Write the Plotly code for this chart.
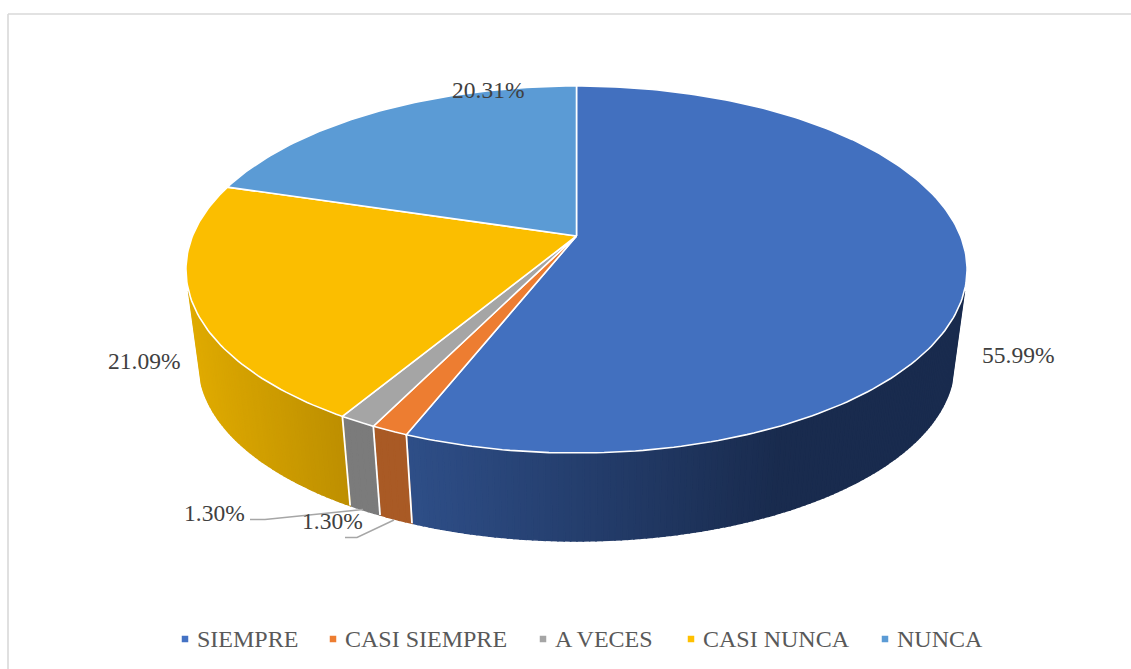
import numpy as np
import plotly.graph_objects as go

categories = ["SIEMPRE", "CASI SIEMPRE", "A VECES", "CASI NUNCA", "NUNCA"]
shares = [55.99, 1.30, 1.30, 21.09, 20.31]
top_colors = ["#4270BF", "#ED7D31", "#A5A5A5", "#FBBE00", "#5B9BD5"]
legend_colors = ["#4472C4", "#ED7D31", "#A5A5A5", "#FFC000", "#5B9BD5"]
side_left_colors = ["#2E4E87", "#A95A25", "#7B7B7B", "#DFAA00", "#3F6F9C"]
side_right_colors = ["#192B4E", "#A95A25", "#7B7B7B", "#BD8F00", "#3F6F9C"]
label_pos = [(1018, 354.5), (332, 521), (214, 513), (144, 360.5), (488, 90)]
legend_marker_x = [185, 333, 543, 691, 885]

W, H = 1131, 669
CX, CY = 576.5, 236.0      # pie apex on screen
A, B, K = 384.0, 177.4, 0.1826   # tilt + perspective of the disc
VPY = 3100.0               # vanishing point of the vertical edges
T = 0.0332                 # pie height as a fraction towards the vanishing point


def top(theta):
    u, v = np.sin(theta), -np.cos(theta)
    w = 1 - K * v
    return CX + A * u / w, CY + B * v / w


def bottom(theta):
    x, y = top(theta)
    return x + (CX - x) * T, y + (VPY - y) * T


def hex_rgb(c):
    return np.array([int(c[i:i + 2], 16) for i in (1, 3, 5)], float)


fracs = np.array(shares) / sum(shares)
edges = np.concatenate([[0], np.cumsum(fracs)]) * 2 * np.pi
fig = go.Figure()

# side wall, drawn as narrow strips so that it can carry a horizontal gradient
vis_lo, vis_hi = np.radians(107), np.radians(253)
for i in range(len(shares)):
    a0, a1 = max(edges[i], vis_lo), min(edges[i + 1], vis_hi)
    if a1 <= a0:
        continue
    n = max(3, int((a1 - a0) / np.radians(0.8)))
    ts = np.linspace(a0, a1, n + 1)
    xs = top(ts)[0]
    span = (410.0, 780.0) if i == 0 else (xs.min(), xs.max())
    cl, cr = hex_rgb(side_left_colors[i]), hex_rgb(side_right_colors[i])
    for j in range(n):
        seg = np.array([ts[j], ts[j + 1]])
        xt, yt = top(seg)
        xb, yb = bottom(seg)
        f = np.clip((xt.mean() - span[0]) / (span[1] - span[0]), 0, 1)
        c = np.round(cl + (cr - cl) * f)
        col = "rgb(%d,%d,%d)" % tuple(c)
        fig.add_trace(go.Scatter(
            x=[xt[0], xt[1], xb[1], xb[0], xt[0]],
            y=[yt[0], yt[1], yb[1], yb[0], yt[0]],
            mode="lines", fill="toself", fillcolor=col,
            line=dict(color=col, width=1.6), hoverinfo="skip", showlegend=False))

# white separators on the side wall
for e in edges[1:-2]:
    xt, yt = top(np.array([e]))
    xb, yb = bottom(np.array([e]))
    fig.add_trace(go.Scatter(x=[xt[0], xb[0]], y=[yt[0], yb[0]], mode="lines",
                             line=dict(color="white", width=1.8),
                             hoverinfo="skip", showlegend=False))

# top face
for i in range(len(shares)):
    ts = np.linspace(edges[i], edges[i + 1], max(3, int((edges[i + 1] - edges[i]) * 60)))
    xt, yt = top(ts)
    fig.add_trace(go.Scatter(
        x=np.concatenate([[CX], xt, [CX]]), y=np.concatenate([[CY], yt, [CY]]),
        mode="lines", fill="toself", fillcolor=top_colors[i],
        line=dict(color="white", width=1.6), hoverinfo="skip", showlegend=False))

# leader lines
leader_x = [[250, 265, 363], [345, 357, 394]]
leader_y = [[519.5, 519.5, 509.5], [537.5, 537.5, 520]]
for lx, ly in zip(leader_x, leader_y):
    fig.add_trace(go.Scatter(x=lx, y=ly, mode="lines", line=dict(color="#A6A6A6", width=1.4),
                             hoverinfo="skip", showlegend=False))

# legend row
for name, col, mx in zip(categories, legend_colors, legend_marker_x):
    fig.add_trace(go.Scatter(x=[mx], y=[639], mode="markers", name=name, showlegend=False,
                             hoverinfo="name", marker=dict(symbol="square", size=6.5, color=col)))
    fig.add_annotation(x=mx + 12, y=639, text=name, showarrow=False, xref="x", yref="y",
                       xanchor="left", xshift=-2,
                       font=dict(family="Liberation Serif", size=24, color="#595959"))

for s, (x, y) in zip(shares, label_pos):
    fig.add_annotation(x=x, y=y, text=f"{s:.2f}%", showarrow=False, xref="x", yref="y",
                       font=dict(family="Liberation Serif", size=23.5, color="#404040"))

# chart frame (cropped on the right and bottom)
for x0, y0, x1, y1 in [(8, 14, 1131, 14), (8, 14, 8, 669)]:
    fig.add_shape(type="line", x0=x0, y0=y0, x1=x1, y1=y1, xref="x", yref="y",
                  line=dict(color="#D9D9D9", width=1.6), layer="below")

fig.update_layout(
    width=W, height=H, margin=dict(l=0, r=0, t=0, b=0),
    paper_bgcolor="white", plot_bgcolor="white",
    xaxis=dict(range=[0, W], visible=False, fixedrange=True),
    yaxis=dict(range=[H, 0], visible=False, fixedrange=True),
    showlegend=False,
)
fig.write_html("out.html", post_script="document.body.style.margin='0';document.body.style.overflow='hidden';",
               config={"displayModeBar": False})
